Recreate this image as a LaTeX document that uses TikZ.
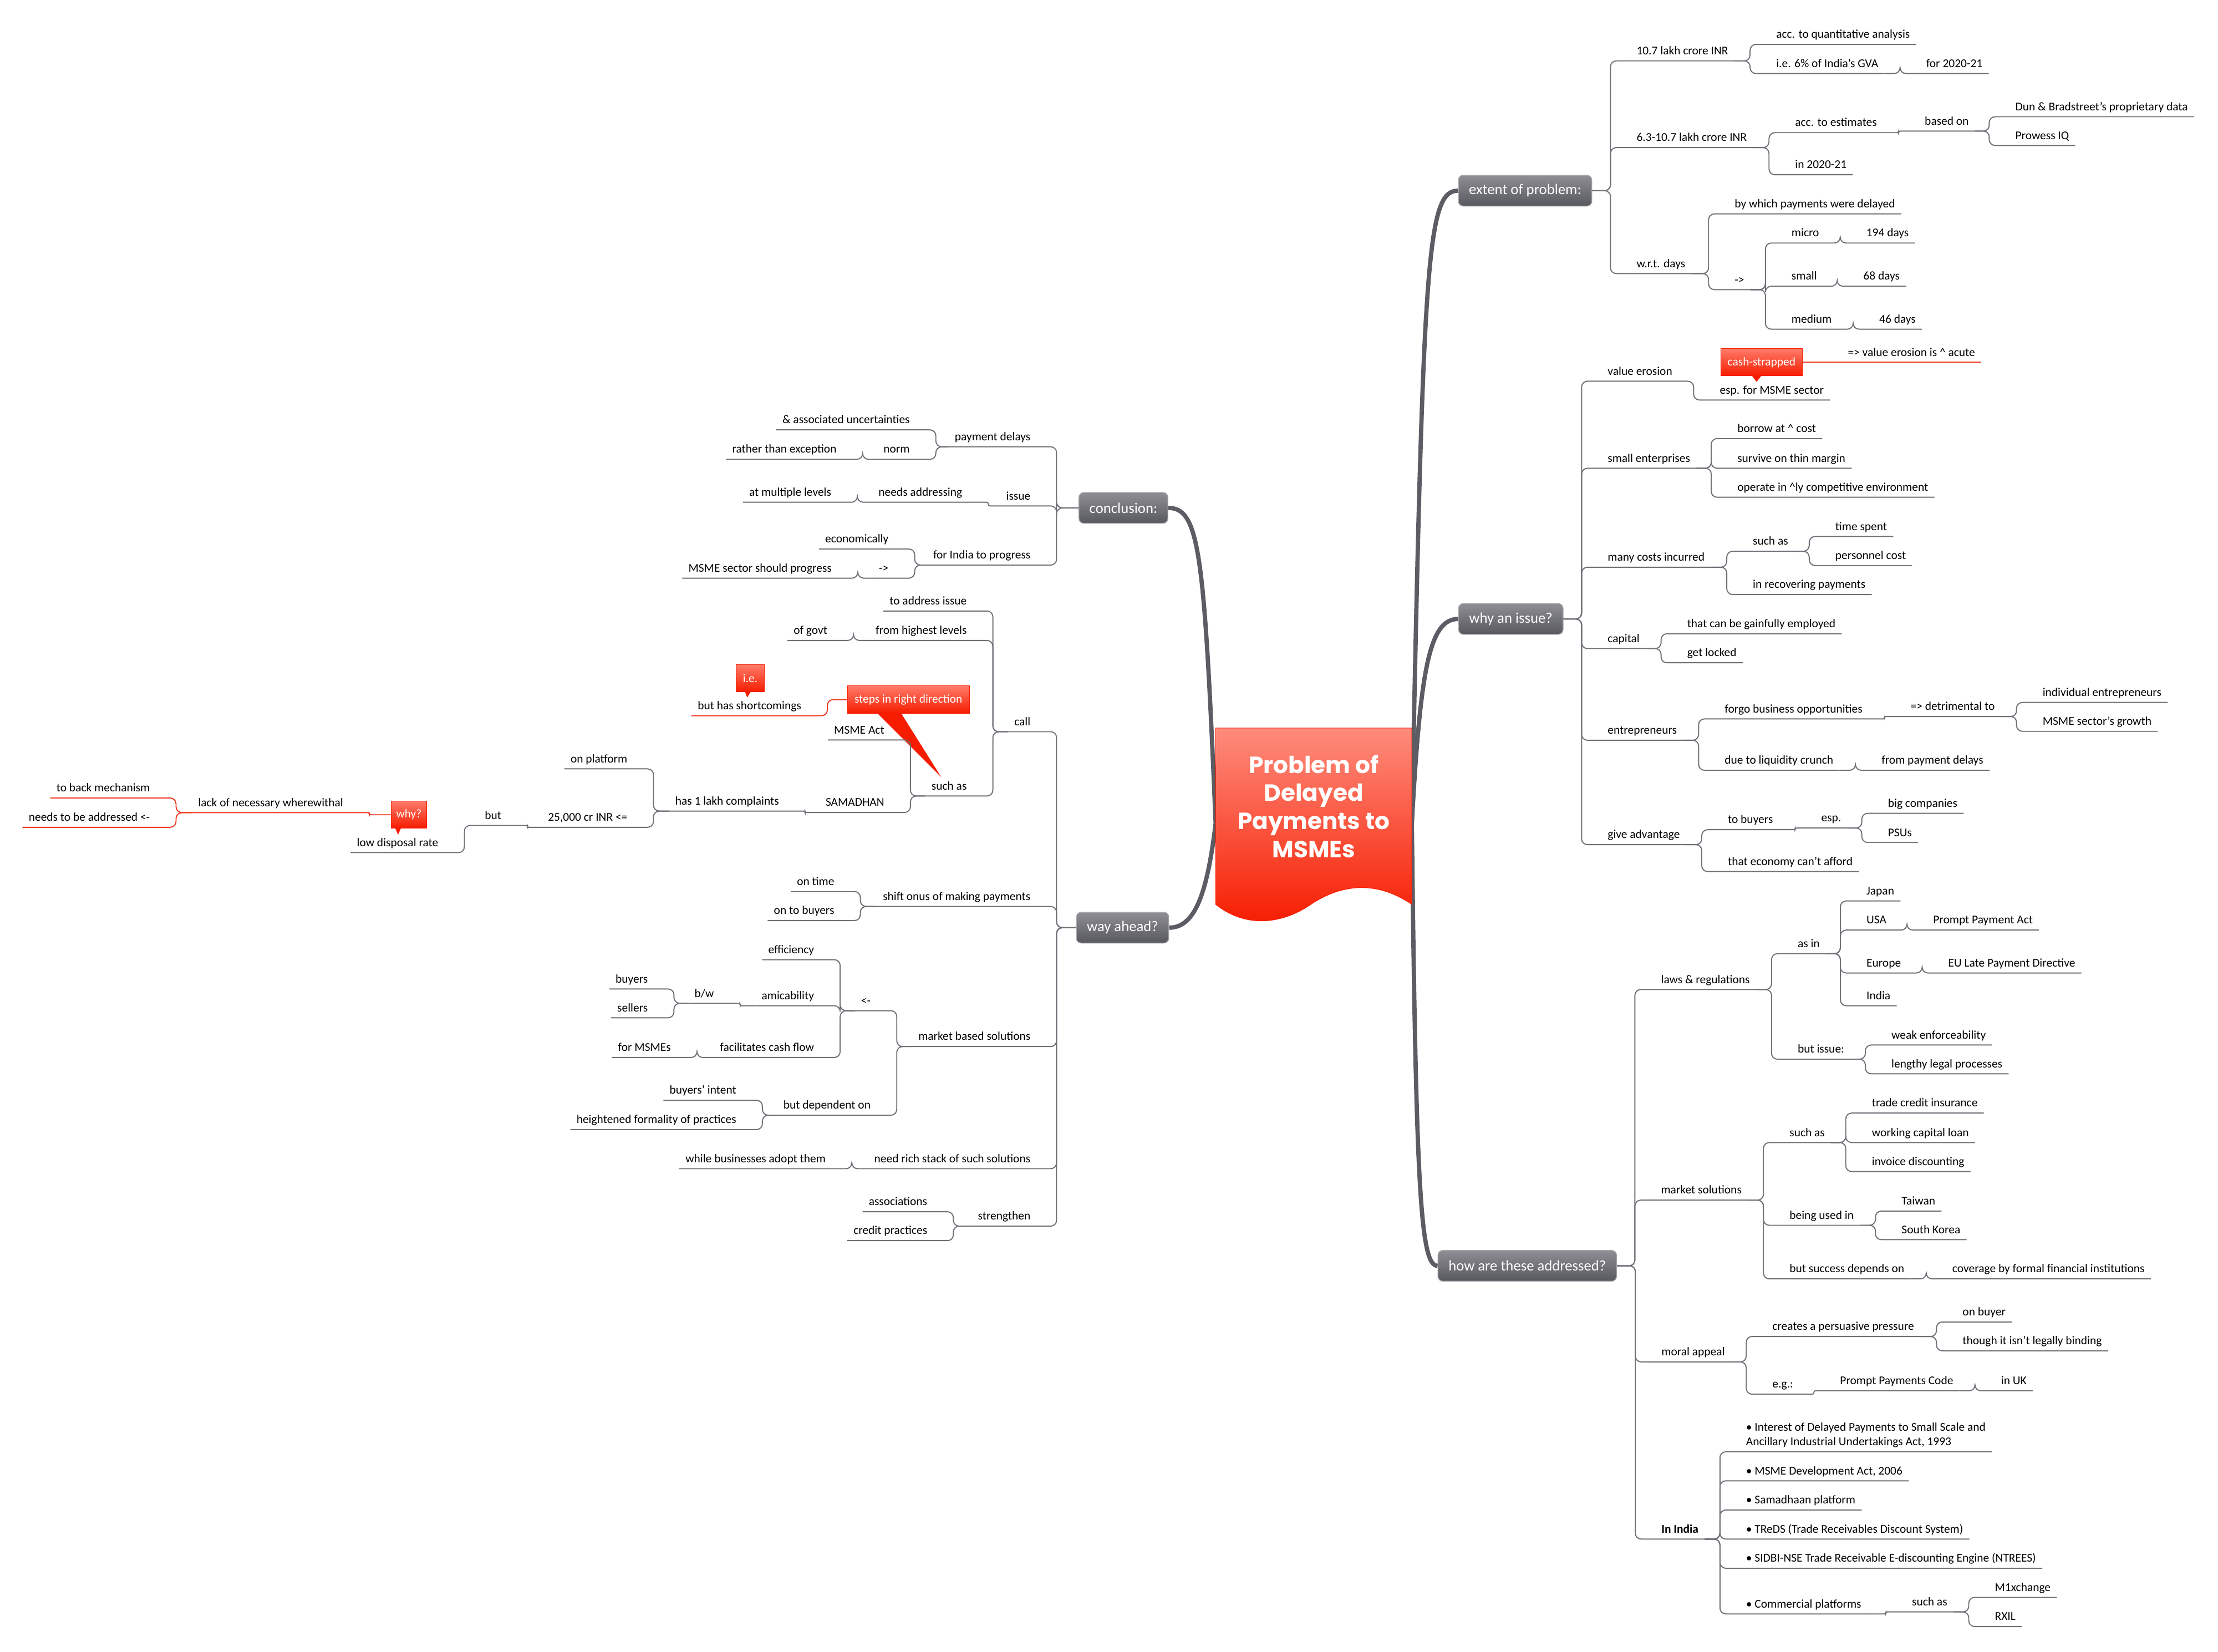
\documentclass[tikz,border=0pt]{standalone}
\usepackage{fontspec}
\setmainfont{Carlito}
\newfontfamily\titlefont{Poppins}
\definecolor{lineC}{HTML}{707078}
\definecolor{trunkC}{HTML}{5C5C64}
\definecolor{mtTop}{HTML}{8E8E94}
\definecolor{mtBot}{HTML}{58585F}
\definecolor{mtEdge}{HTML}{A4A4AA}
\definecolor{coTop}{HTML}{FF7B69}
\definecolor{coBot}{HTML}{F61C00}
\definecolor{redC}{HTML}{EE3A22}
\definecolor{ttTop}{HTML}{FE8C7C}

\begin{document}
\begin{tikzpicture}[x=0.025641cm,y=-0.025641cm,
  sub/.style={inner xsep=3pt,inner ysep=1.5pt,text height=4.4pt,text depth=1.5pt,font=\fontsize{6.1pt}{7.5pt}\selectfont},
  rsub/.style={sub,anchor=south west,xshift=-3pt},
  lsub/.style={sub,anchor=south east,xshift=3pt},
  mtopic/.style={rounded corners=2.5pt,top color=mtTop,bottom color=mtBot,draw=mtEdge,line width=0.4pt,text=white,font=\fontsize{7.6pt}{9pt}\selectfont,minimum height=15.8pt,inner xsep=5.4pt,inner ysep=0pt},
  callout/.style={top color=coTop,bottom color=coBot,draw=coBot,line width=0.3pt,text=white,font=\fontsize{6.1pt}{7.5pt}\selectfont,minimum height=14pt,inner xsep=3.6pt,inner ysep=0pt},
  link/.style={draw=lineC,line width=0.55pt,rounded corners=3pt},
  redlink/.style={link,draw=redC},
  jog/.style={rounded corners=0.8pt},
  trunk/.style={draw=trunkC,line width=2.2pt}]

\useasboundingbox (0,0) rectangle (1560,1161.8);

% main topics
\node[mtopic,anchor=west] (extent) at (1025.5,134.1) {extent of problem:};
\node[mtopic,anchor=west] (why) at (1025.6,435.3) {why an issue?};
\node[mtopic,anchor=west] (how) at (1011.1,890.2) {how are these addressed?};
\node[mtopic,anchor=east] (concl) at (821.7,357.2) {conclusion:};
\node[mtopic,anchor=east] (way) at (822.3,652.4) {way ahead?};

\coordinate (tR) at (993,579);
\coordinate (tL) at (855,579);
\draw[trunk] (tR) .. controls +(8,-398) and +(-22,0) .. (extent.west);
\draw[trunk] (tR) .. controls +(6,-110) and +(-20,0) .. (why.west);
\draw[trunk] (tR) .. controls +(3,260) and +(-12,0) .. (how.west);
\draw[trunk] (tL) .. controls +(-8,-190) and +(22,0) .. (concl.east);
\draw[trunk] (tL) .. controls +(-6,50) and +(18,0) .. (way.east);

% central topic
\path[top color=ttTop,middle color=coBot,bottom color=coBot,draw=coBot,line width=0.3pt]
  (855,512) -- (993,512) -- (993,636)
  .. controls (965,617) and (940,624) .. (922,636)
  .. controls (900,651) and (875,652) .. (855,636) -- cycle;
\node[font=\titlefont\bfseries\fontsize{12pt}{14.4pt}\selectfont,text=white,align=center] (title) at (924,567) {Problem of\\Delayed\\Payments to\\MSMEs};

% extent of problem
\node[rsub] (e1) at (1150.8,42.8) {10.7 lakh crore INR};
\node[rsub] (e11) at (1249,31.2) {acc. to quantitative analysis};
\node[rsub] (e12) at (1249,51.7) {i.e. 6\% of India's GVA};
\node[rsub] (e121) at (1354.5,51.7) {for 2020-21};
\node[rsub] (e2) at (1150.8,103.8) {6.3-10.7 lakh crore INR};
\node[rsub] (e21) at (1262.3,93.3) {acc. to estimates};
\node[rsub] (e211) at (1353.5,92.2) {based on};
\node[rsub] (e2111) at (1417.2,82.1) {Dun \& Bradstreet's proprietary data};
\node[rsub] (e2112) at (1417.2,102.3) {Prowess IQ};
\node[rsub] (e22) at (1262.3,122.9) {in 2020-21};
\node[rsub] (e3) at (1150.8,192.4) {w.r.t. days};
\node[rsub] (e31) at (1219.8,150.4) {by which payments were delayed};
\node[rsub] (e32) at (1219.8,203.7) {->};
\node[rsub] (e321) at (1259.8,170.9) {micro};
\node[rsub] (e3211) at (1312.4,170.9) {194 days};
\node[rsub] (e322) at (1259.8,201.3) {small};
\node[rsub] (e3221) at (1310.3,201.3) {68 days};
\node[rsub] (e323) at (1259.8,231.5) {medium};
\node[rsub] (e3231) at (1321.5,231.5) {46 days};

\draw[link] (e1.south east) -- (e1.south west) -- ++(-14,0) |- (extent.east);
\draw[link] (e2.south east) -- (e2.south west) -- ++(-14,0) |- (extent.east);
\draw[link] (e3.south east) -- (e3.south west) -- ++(-14,0) |- (extent.east);
\draw[link] (e11.south east) -- (e11.south west) -- ++(-14,0) |- (e1.south east);
\draw[link] (e12.south east) -- (e12.south west) -- ++(-14,0) |- (e1.south east);
\draw[link] (e121.south east) -- (e121.south west) -- ++(-14,0) |- (e12.south east);
\draw[link] (e21.south east) -- (e21.south west) -- ++(-14,0) |- (e2.south east);
\draw[link] (e22.south east) -- (e22.south west) -- ++(-14,0) |- (e2.south east);
\draw[link,jog] (e211.south east) -- (e211.south west) -- ++(-14,0) |- (e21.south east);
\draw[link] (e2111.south east) -- (e2111.south west) -- ++(-14,0) |- (e211.south east);
\draw[link] (e2112.south east) -- (e2112.south west) -- ++(-14,0) |- (e211.south east);
\draw[link] (e31.south east) -- (e31.south west) -- ++(-14,0) |- (e3.south east);
\draw[link] (e32.south east) -- (e32.south west) -- ++(-14,0) |- (e3.south east);
\draw[link] (e321.south east) -- (e321.south west) -- ++(-14,0) |- (e32.south east);
\draw[link] (e322.south east) -- (e322.south west) -- ++(-14,0) |- (e32.south east);
\draw[link] (e323.south east) -- (e323.south west) -- ++(-14,0) |- (e32.south east);
\draw[link] (e3211.south east) -- (e3211.south west) -- ++(-14,0) |- (e321.south east);
\draw[link] (e3221.south east) -- (e3221.south west) -- ++(-14,0) |- (e322.south east);
\draw[link] (e3231.south east) -- (e3231.south west) -- ++(-14,0) |- (e323.south east);

% why an issue?
\node[rsub] (w1) at (1130.5,268.1) {value erosion};
\node[rsub] (w11) at (1209.3,281.3) {esp. for MSME sector};
\node[callout] (cash) at (1239,254.8) {cash-strapped};
\fill[coBot] (1232,264) -- (1239,264) -- (1235.5,268.5) -- cycle;
\node[rsub] (w111) at (1299.4,254.8) {=> value erosion is \textasciicircum{} acute};
\node[rsub] (w2) at (1130.5,329.3) {small enterprises};
\node[rsub] (w21) at (1221.7,308.4) {borrow at \textasciicircum{} cost};
\node[rsub] (w22) at (1221.7,329.3) {survive on thin margin};
\node[rsub] (w23) at (1221.7,349.7) {operate in \textasciicircum{}ly competitive environment};
\node[rsub] (w3) at (1130.5,398.9) {many costs incurred};
\node[rsub] (w31) at (1232.6,387.7) {such as};
\node[rsub] (w311) at (1290.6,377.3) {time spent};
\node[rsub] (w312) at (1290.6,397.7) {personnel cost};
\node[rsub] (w32) at (1232.6,418.1) {in recovering payments};
\node[rsub] (w4) at (1130.5,456.1) {capital};
\node[rsub] (w41) at (1186.4,445.7) {that can be gainfully employed};
\node[rsub] (w42) at (1186.4,466.1) {get locked};
\node[rsub] (w5) at (1130.5,520.6) {entrepreneurs};
\node[rsub] (w51) at (1212.8,505.6) {forgo business opportunities};
\node[rsub] (w511) at (1343.5,503.9) {=> detrimental to};
\node[rsub] (w5111) at (1436.4,494) {individual entrepreneurs};
\node[rsub] (w5112) at (1436.4,514.3) {MSME sector's growth};
\node[rsub] (w52) at (1212.8,541.7) {due to liquidity crunch};
\node[rsub] (w521) at (1323.1,541.7) {from payment delays};
\node[rsub] (w6) at (1130.5,594.0) {give advantage};
\node[rsub] (w61) at (1215,583.5) {to buyers};
\node[rsub] (w611) at (1280.7,582.3) {esp.};
\node[rsub] (w6111) at (1327.6,572) {big companies};
\node[rsub] (w6112) at (1327.6,592.5) {PSUs};
\node[rsub] (w62) at (1215,612.9) {that economy can't afford};

\draw[link] (w1.south east) -- (w1.south west) -- ++(-14,0) |- (why.east);
\draw[link] (w2.south east) -- (w2.south west) -- ++(-14,0) |- (why.east);
\draw[link] (w3.south east) -- (w3.south west) -- ++(-14,0) |- (why.east);
\draw[link] (w4.south east) -- (w4.south west) -- ++(-14,0) |- (why.east);
\draw[link] (w5.south east) -- (w5.south west) -- ++(-14,0) |- (why.east);
\draw[link] (w6.south east) -- (w6.south west) -- ++(-14,0) |- (why.east);
\draw[link] (w11.south east) -- (w11.south west) -- ++(-14,0) |- (w1.south east);
\draw[redlink] (w111.south east) -- (w111.south west) -- (cash.east);
\draw[link] (w21.south east) -- (w21.south west) -- ++(-14,0) |- (w2.south east);
\draw[link] (w22.south east) -- (w22.south west) -- ++(-14,0) |- (w2.south east);
\draw[link] (w23.south east) -- (w23.south west) -- ++(-14,0) |- (w2.south east);
\draw[link] (w31.south east) -- (w31.south west) -- ++(-14,0) |- (w3.south east);
\draw[link] (w32.south east) -- (w32.south west) -- ++(-14,0) |- (w3.south east);
\draw[link] (w311.south east) -- (w311.south west) -- ++(-14,0) |- (w31.south east);
\draw[link] (w312.south east) -- (w312.south west) -- ++(-14,0) |- (w31.south east);
\draw[link] (w41.south east) -- (w41.south west) -- ++(-14,0) |- (w4.south east);
\draw[link] (w42.south east) -- (w42.south west) -- ++(-14,0) |- (w4.south east);
\draw[link] (w51.south east) -- (w51.south west) -- ++(-14,0) |- (w5.south east);
\draw[link] (w52.south east) -- (w52.south west) -- ++(-14,0) |- (w5.south east);
\draw[link,jog] (w511.south east) -- (w511.south west) -- ++(-14,0) |- (w51.south east);
\draw[link] (w5111.south east) -- (w5111.south west) -- ++(-14,0) |- (w511.south east);
\draw[link] (w5112.south east) -- (w5112.south west) -- ++(-14,0) |- (w511.south east);
\draw[link] (w521.south east) -- (w521.south west) -- ++(-14,0) |- (w52.south east);
\draw[link] (w61.south east) -- (w61.south west) -- ++(-14,0) |- (w6.south east);
\draw[link] (w62.south east) -- (w62.south west) -- ++(-14,0) |- (w6.south east);
\draw[link,jog] (w611.south east) -- (w611.south west) -- ++(-14,0) |- (w61.south east);
\draw[link] (w6111.south east) -- (w6111.south west) -- ++(-14,0) |- (w611.south east);
\draw[link] (w6112.south east) -- (w6112.south west) -- ++(-14,0) |- (w611.south east);

% how are these addressed?
\node[rsub] (h1) at (1168,695.9) {laws \& regulations};
\node[rsub] (h11) at (1264.1,670.7) {as in};
\node[rsub] (h111) at (1312.5,633.6) {Japan};
\node[rsub] (h112) at (1312.5,654.1) {USA};
\node[rsub] (h1121) at (1359.4,654.1) {Prompt Payment Act};
\node[rsub] (h113) at (1312.5,684.3) {Europe};
\node[rsub] (h1131) at (1370,684.3) {EU Late Payment Directive};
\node[rsub] (h114) at (1312.5,707.3) {India};
\node[rsub] (h12) at (1264.1,744.9) {but issue:};
\node[rsub] (h121) at (1330.1,734.9) {weak enforceability};
\node[rsub] (h122) at (1330.1,755.2) {lengthy legal processes};
\node[rsub] (h2) at (1168,844.0) {market solutions};
\node[rsub] (h21) at (1258.4,803.5) {such as};
\node[rsub] (h211) at (1316.3,782.8) {trade credit insurance};
\node[rsub] (h212) at (1316.3,803.5) {working capital loan};
\node[rsub] (h213) at (1316.3,823.9) {invoice discounting};
\node[rsub] (h22) at (1258.4,861.7) {being used in};
\node[rsub] (h221) at (1337.2,851.7) {Taiwan};
\node[rsub] (h222) at (1337.2,871.8) {South Korea};
\node[rsub] (h23) at (1258.4,899.4) {but success depends on};
\node[rsub] (h231) at (1372.9,899.4) {coverage by formal financial institutions};
\node[rsub] (h3) at (1168.3,957.8) {moral appeal};
\node[rsub] (h31) at (1246.3,939.9) {creates a persuasive pressure};
\node[rsub] (h311) at (1380.1,929.7) {on buyer};
\node[rsub] (h312) at (1380.1,950.0) {though it isn't legally binding};
\node[rsub] (h32) at (1246.3,980.5) {e.g.:};
\node[rsub] (h321) at (1293.9,978.1) {Prompt Payments Code};
\node[rsub] (h3211) at (1407.2,978.1) {in UK};
\node[rsub,font=\bfseries\fontsize{6.1pt}{7.5pt}\selectfont] (h4) at (1168.3,1082.4) {In India};
\node[rsub,align=left] (h41) at (1227.8,1021.0) {• Interest of Delayed Payments to Small Scale and\\Ancillary Industrial Undertakings Act, 1993};
\node[rsub] (h42) at (1227.8,1041.4) {• MSME Development Act, 2006};
\node[rsub] (h43) at (1227.8,1061.9) {• Samadhaan platform};
\node[rsub] (h44) at (1227.8,1082.4) {• TReDS (Trade Receivables Discount System)};
\node[rsub] (h45) at (1227.8,1102.9) {• SIDBI-NSE Trade Receivable E-discounting Engine (NTREES)};
\node[rsub] (h46) at (1227.8,1135.0) {• Commercial platforms};
\node[rsub] (h461) at (1344.5,1133.6) {such as};
\node[rsub] (h4611) at (1402.8,1123.4) {M1xchange};
\node[rsub] (h4612) at (1402.8,1143.9) {RXIL};

\draw[link] (h1.south east) -- (h1.south west) -- ++(-14,0) |- (how.east);
\draw[link] (h2.south east) -- (h2.south west) -- ++(-14,0) |- (how.east);
\draw[link] (h3.south east) -- (h3.south west) -- ++(-14,0) |- (how.east);
\draw[link] (h4.south east) -- (h4.south west) -- ++(-14,0) |- (how.east);
\draw[link] (h11.south east) -- (h11.south west) -- ++(-14,0) |- (h1.south east);
\draw[link] (h12.south east) -- (h12.south west) -- ++(-14,0) |- (h1.south east);
\draw[link] (h111.south east) -- (h111.south west) -- ++(-14,0) |- (h11.south east);
\draw[link] (h112.south east) -- (h112.south west) -- ++(-14,0) |- (h11.south east);
\draw[link] (h113.south east) -- (h113.south west) -- ++(-14,0) |- (h11.south east);
\draw[link] (h114.south east) -- (h114.south west) -- ++(-14,0) |- (h11.south east);
\draw[link] (h1121.south east) -- (h1121.south west) -- ++(-14,0) |- (h112.south east);
\draw[link] (h1131.south east) -- (h1131.south west) -- ++(-14,0) |- (h113.south east);
\draw[link] (h121.south east) -- (h121.south west) -- ++(-14,0) |- (h12.south east);
\draw[link] (h122.south east) -- (h122.south west) -- ++(-14,0) |- (h12.south east);
\draw[link] (h21.south east) -- (h21.south west) -- ++(-14,0) |- (h2.south east);
\draw[link] (h22.south east) -- (h22.south west) -- ++(-14,0) |- (h2.south east);
\draw[link] (h23.south east) -- (h23.south west) -- ++(-14,0) |- (h2.south east);
\draw[link] (h211.south east) -- (h211.south west) -- ++(-14,0) |- (h21.south east);
\draw[link] (h212.south east) -- (h212.south west) -- ++(-14,0) |- (h21.south east);
\draw[link] (h213.south east) -- (h213.south west) -- ++(-14,0) |- (h21.south east);
\draw[link] (h221.south east) -- (h221.south west) -- ++(-14,0) |- (h22.south east);
\draw[link] (h222.south east) -- (h222.south west) -- ++(-14,0) |- (h22.south east);
\draw[link] (h231.south east) -- (h231.south west) -- ++(-14,0) |- (h23.south east);
\draw[link] (h31.south east) -- (h31.south west) -- ++(-14,0) |- (h3.south east);
\draw[link] (h32.south east) -- (h32.south west) -- ++(-14,0) |- (h3.south east);
\draw[link] (h311.south east) -- (h311.south west) -- ++(-14,0) |- (h31.south east);
\draw[link] (h312.south east) -- (h312.south west) -- ++(-14,0) |- (h31.south east);
\draw[link,jog] (h321.south east) -- (h321.south west) -- ++(-14,0) |- (h32.south east);
\draw[link] (h3211.south east) -- (h3211.south west) -- ++(-14,0) |- (h321.south east);
\draw[link] (h41.south east) -- (h41.south west) -- ++(-14,0) |- (h4.south east);
\draw[link] (h42.south east) -- (h42.south west) -- ++(-14,0) |- (h4.south east);
\draw[link] (h43.south east) -- (h43.south west) -- ++(-14,0) |- (h4.south east);
\draw[link] (h44.south east) -- (h44.south west) -- ++(-14,0) |- (h4.south east);
\draw[link] (h45.south east) -- (h45.south west) -- ++(-14,0) |- (h4.south east);
\draw[link] (h46.south east) -- (h46.south west) -- ++(-14,0) |- (h4.south east);
\draw[link,jog] (h461.south east) -- (h461.south west) -- ++(-14,0) |- (h46.south east);
\draw[link] (h4611.south east) -- (h4611.south west) -- ++(-14,0) |- (h461.south east);
\draw[link] (h4612.south east) -- (h4612.south west) -- ++(-14,0) |- (h461.south east);

% conclusion
\node[lsub] (c1) at (725,314.2) {payment delays};
\node[lsub] (c11) at (640.1,302.3) {\& associated uncertainties};
\node[lsub] (c12) at (640.1,323.0) {norm};
\node[lsub] (c121) at (588.6,323.0) {rather than exception};
\node[lsub] (c2) at (725,355.8) {issue};
\node[lsub] (c21) at (677.0,353.2) {needs addressing};
\node[lsub] (c211) at (584.9,353.2) {at multiple levels};
\node[lsub] (c3) at (725,397.4) {for India to progress};
\node[lsub] (c31) at (625.2,386.1) {economically};
\node[lsub] (c32) at (625.2,406.6) {->};
\node[lsub] (c321) at (585.2,406.6) {MSME sector should progress};

\draw[link] (c1.south west) -- (c1.south east) -- ++(14,0) |- (concl.west);
\draw[link] (c2.south west) -- (c2.south east) -- ++(14,0) |- (concl.west);
\draw[link] (c3.south west) -- (c3.south east) -- ++(14,0) |- (concl.west);
\draw[link] (c11.south west) -- (c11.south east) -- ++(14,0) |- (c1.south west);
\draw[link] (c12.south west) -- (c12.south east) -- ++(14,0) |- (c1.south west);
\draw[link] (c121.south west) -- (c121.south east) -- ++(14,0) |- (c12.south west);
\draw[link,jog] (c21.south west) -- (c21.south east) -- ++(14,0) |- (c2.south west);
\draw[link] (c211.south west) -- (c211.south east) -- ++(14,0) |- (c21.south west);
\draw[link] (c31.south west) -- (c31.south east) -- ++(14,0) |- (c3.south west);
\draw[link] (c32.south west) -- (c32.south east) -- ++(14,0) |- (c3.south west);
\draw[link] (c321.south west) -- (c321.south east) -- ++(14,0) |- (c32.south west);

% way ahead?
\node[lsub] (a1) at (725,514.6) {call};
\node[lsub] (a11) at (680.2,429.7) {to address issue};
\node[lsub] (a12) at (680.2,450.4) {from highest levels};
\node[lsub] (a121) at (582.2,450.4) {of govt};
\node[lsub] (a13) at (680.2,559.8) {such as};
\node[lsub] (a131) at (622.2,520.4) {MSME Act};
\node[lsub] (a1311) at (563.8,503.3) {but has shortcomings};
\node[callout] (steps) at (638.9,492) {steps in right direction};
\fill[coBot] (616.5,501) -- (633.4,501) -- (662,546.5) -- cycle;
\node[callout,minimum width=14.5pt,inner xsep=2pt] (ie) at (527.7,477.1) {i.e.};
\fill[coBot] (524,486.5) -- (528,486.5) -- (525.5,490.5) -- cycle;
\node[lsub] (a132) at (622.2,571.4) {SAMADHAN};
\node[lsub] (a1321) at (548.1,570.4) {has 1 lakh complaints};
\node[lsub] (a13211) at (441.5,540.7) {on platform};
\node[lsub] (a13212) at (441.5,581.8) {25,000 cr INR <=};
\node[lsub] (a132121) at (352.9,580.5) {but};
\node[lsub] (a1321211) at (308.5,599.6) {low disposal rate};
\node[callout,inner xsep=2.5pt] (whyQ) at (287.6,573) {why?};
\fill[coBot] (278,582.5) -- (282,582.5) -- (280,587) -- cycle;
\node[lsub] (lack) at (241.6,571.5) {lack of necessary wherewithal};
\node[lsub] (lack1) at (105.7,561.2) {to back mechanism};
\node[lsub] (lack2) at (105.7,581.8) {needs to be addressed <-};
\node[lsub] (a2) at (725,637.5) {shift onus of making payments};
\node[lsub] (a21) at (587,627.0) {on time};
\node[lsub] (a22) at (587,647.4) {on to buyers};
\node[lsub] (a3) at (725,736.0) {market based solutions};
\node[lsub] (a31) at (612.6,710.8) {<-};
\node[lsub] (a311) at (572.8,674.9) {efficiency};
\node[lsub] (a312) at (572.8,707.3) {amicability};
\node[lsub] (a3121) at (502.4,705.6) {b/w};
\node[lsub] (a31211) at (455.9,695.5) {buyers};
\node[lsub] (a31212) at (455.9,715.8) {sellers};
\node[lsub] (a313) at (572.8,743.7) {facilitates cash flow};
\node[lsub] (a3131) at (472.1,743.7) {for MSMEs};
\node[lsub] (a32) at (612.6,784.3) {but dependent on};
\node[lsub] (a321) at (518.1,773.8) {buyers' intent};
\node[lsub] (a322) at (518.1,794.4) {heightened formality of practices};
\node[lsub] (a4) at (725,821.9) {need rich stack of such solutions};
\node[lsub] (a41) at (581.0,821.9) {while businesses adopt them};
\node[lsub] (a5) at (725,862.3) {strengthen};
\node[lsub] (a51) at (652.4,852.2) {associations};
\node[lsub] (a52) at (652.4,872.5) {credit practices};

\draw[link] (a1.south west) -- (a1.south east) -- ++(14,0) |- (way.west);
\draw[link] (a2.south west) -- (a2.south east) -- ++(14,0) |- (way.west);
\draw[link] (a3.south west) -- (a3.south east) -- ++(14,0) |- (way.west);
\draw[link] (a4.south west) -- (a4.south east) -- ++(14,0) |- (way.west);
\draw[link] (a5.south west) -- (a5.south east) -- ++(14,0) |- (way.west);
\draw[link] (a11.south west) -- (a11.south east) -- ++(14,0) |- (a1.south west);
\draw[link] (a12.south west) -- (a12.south east) -- ++(14,0) |- (a1.south west);
\draw[link] (a13.south west) -- (a13.south east) -- ++(14,0) |- (a1.south west);
\draw[link] (a121.south west) -- (a121.south east) -- ++(14,0) |- (a12.south west);
\draw[link] (a131.south west) -- (a131.south east) -- ++(14,0) |- (a13.south west);
\draw[link] (a132.south west) -- (a132.south east) -- ++(14,0) |- (a13.south west);
\draw[redlink] (a1311.south west) -- (a1311.south east) -- ++(14,0) |- (steps.west);
\draw[link,jog] (a1321.south west) -- (a1321.south east) -- ++(14,0) |- (a132.south west);
\draw[link] (a13211.south west) -- (a13211.south east) -- ++(14,0) |- (a1321.south west);
\draw[link] (a13212.south west) -- (a13212.south east) -- ++(14,0) |- (a1321.south west);
\draw[link,jog] (a132121.south west) -- (a132121.south east) -- ++(14,0) |- (a13212.south west);
\draw[link] (a1321211.south west) -- (a1321211.south east) -- ++(14,0) |- (a132121.south west);
\draw[redlink,jog] (lack.south west) -- (lack.south east) -- ++(14,0) |- (whyQ.west);
\draw[redlink] (lack1.south west) -- (lack1.south east) -- ++(14,0) |- (lack.south west);
\draw[redlink] (lack2.south west) -- (lack2.south east) -- ++(14,0) |- (lack.south west);
\draw[link] (a21.south west) -- (a21.south east) -- ++(14,0) |- (a2.south west);
\draw[link] (a22.south west) -- (a22.south east) -- ++(14,0) |- (a2.south west);
\draw[link] (a31.south west) -- (a31.south east) -- ++(14,0) |- (a3.south west);
\draw[link] (a32.south west) -- (a32.south east) -- ++(14,0) |- (a3.south west);
\draw[link] (a311.south west) -- (a311.south east) -- ++(14,0) |- (a31.south west);
\draw[link] (a312.south west) -- (a312.south east) -- ++(14,0) |- (a31.south west);
\draw[link] (a313.south west) -- (a313.south east) -- ++(14,0) |- (a31.south west);
\draw[link,jog] (a3121.south west) -- (a3121.south east) -- ++(14,0) |- (a312.south west);
\draw[link] (a31211.south west) -- (a31211.south east) -- ++(14,0) |- (a3121.south west);
\draw[link] (a31212.south west) -- (a31212.south east) -- ++(14,0) |- (a3121.south west);
\draw[link] (a3131.south west) -- (a3131.south east) -- ++(14,0) |- (a313.south west);
\draw[link] (a321.south west) -- (a321.south east) -- ++(14,0) |- (a32.south west);
\draw[link] (a322.south west) -- (a322.south east) -- ++(14,0) |- (a32.south west);
\draw[link] (a41.south west) -- (a41.south east) -- ++(14,0) |- (a4.south west);
\draw[link] (a51.south west) -- (a51.south east) -- ++(14,0) |- (a5.south west);
\draw[link] (a52.south west) -- (a52.south east) -- ++(14,0) |- (a5.south west);

\end{tikzpicture}
\end{document}
